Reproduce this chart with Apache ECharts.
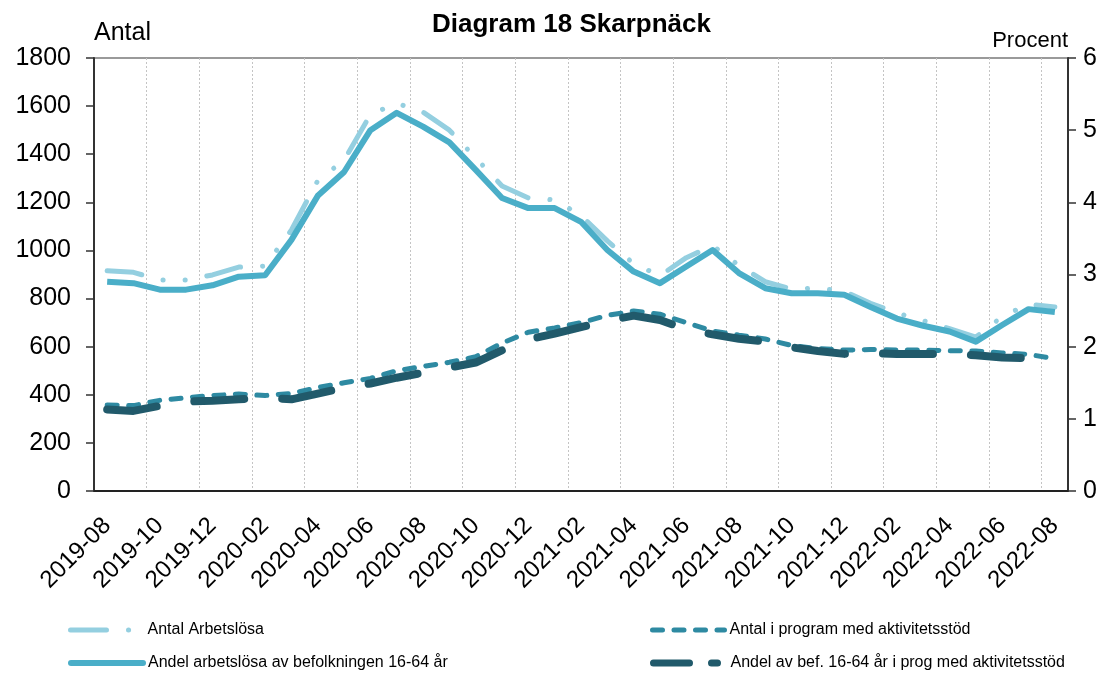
<!DOCTYPE html>
<html>
<head>
<meta charset="utf-8">
<script src="https://cdn.jsdelivr.net/npm/echarts@6/dist/echarts.min.js"></script>
<style>
  html, body { margin: 0; padding: 0; background: #fff; }
  #main { width: 1109px; height: 673px; }
</style>
</head>
<body>
<div id="main"></div>
<script>
// manader 2019-08 .. 2022-08
var manader = ['2019-08','2019-09','2019-10','2019-11','2019-12','2020-01','2020-02','2020-03',
  '2020-04','2020-05','2020-06','2020-07','2020-08','2020-09','2020-10','2020-11','2020-12',
  '2021-01','2021-02','2021-03','2021-04','2021-05','2021-06','2021-07','2021-08','2021-09',
  '2021-10','2021-11','2021-12','2022-01','2022-02','2022-03','2022-04','2022-05','2022-06',
  '2022-07','2022-08'];

// Antal Arbetslösa (vänster axel)
var antalArbetslosa = [916, 909, 877, 877, 898, 931, 935, 1085, 1290, 1375, 1565, 1612, 1575,
  1500, 1385, 1268, 1218, 1210, 1145, 1040, 945, 895, 970, 1020, 938, 870, 840, 843, 830,
  780, 740, 708, 675, 640, 725, 777, 765];

// Antal i program med aktivitetsstöd (vänster axel)
var antalProgram = [357, 355, 377, 388, 397, 403, 397, 405, 430, 450, 468, 500, 518, 535, 558,
  615, 660, 678, 700, 730, 748, 735, 700, 665, 648, 632, 605, 592, 586, 588, 586, 586, 583,
  582, 574, 568, 550];

// Andel arbetslösa av befolkningen 16-64 år, procent (höger axel)
var andelArbetslosa = [2.90, 2.88, 2.79, 2.79, 2.85, 2.97, 2.99, 3.48, 4.09, 4.42, 5.00, 5.24,
  5.05, 4.83, 4.45, 4.06, 3.92, 3.92, 3.73, 3.34, 3.04, 2.88, 3.11, 3.34, 3.02, 2.81, 2.74,
  2.74, 2.72, 2.55, 2.39, 2.29, 2.21, 2.07, 2.30, 2.52, 2.48];

// Andel av bef. 16-64 år i prog med aktivitetsstöd, procent (höger axel)
var andelProgram = [1.13, 1.11, 1.18, 1.24, 1.25, 1.27, 1.29, 1.27, 1.35, 1.43, 1.49, 1.57,
  1.64, 1.71, 1.78, 1.95, 2.10, 2.18, 2.27, 2.36, 2.43, 2.37, 2.24, 2.17, 2.11, 2.07, 1.99,
  1.94, 1.90, 1.91, 1.90, 1.90, 1.90, 1.88, 1.85, 1.84, null];

var vansterTicks = { min: 0, max: 1800, interval: 200 };
var hogerTicks = { min: 0, max: 6, interval: 1 };

var font = 'Liberation Sans, Arial, sans-serif';
var farger = ['#94cfe0', '#4aaec8', '#2e8aa2', '#215a6b'];

// en förklaring per serie, så att de kan placeras i två kolumner
function forklaring(namn, left, top, linje) {
  return {
    left: left,
    top: top,
    itemWidth: 72,
    itemHeight: 14,
    textStyle: { fontFamily: font, fontSize: 16, color: '#000' },
    itemStyle: { opacity: 0 },
    lineStyle: linje,
    data: [namn]
  };
}

var myChart = echarts.init(document.getElementById('main'));

var option = {
  backgroundColor: '#ffffff',
  animation: false,
  title: {
    text: 'Diagram 18 Skarpnäck',
    left: 427,
    top: 7,
    textStyle: { fontFamily: font, fontSize: 26, fontWeight: 'bold', color: '#000' }
  },
  legend: [
    forklaring('Antal Arbetslösa', 63, 617, { width: 5, cap: 'round', type: [36, 22, 0.1, 40] }),
    forklaring('Andel arbetslösa av befolkningen 16-64 år', 63, 650, { width: 6, cap: 'round' }),
    forklaring('Antal i program med aktivitetsstöd', 645, 617, { width: 5, cap: 'round', type: [10, 11.5] }),
    forklaring('Andel av bef. 16-64 år i prog med aktivitetsstöd', 645, 650, { width: 7, cap: 'round', type: [36, 22, 6, 20] })
  ],
  grid: {
    left: 94,
    right: 41,
    top: 58,
    bottom: 182,
    show: true,
    borderColor: '#9a9a9a',
    borderWidth: 2
  },
  xAxis: {
    type: 'category',
    data: manader,
    boundaryGap: true,
    axisLine: { lineStyle: { color: '#222', width: 2 } },
    axisTick: { interval: 1, length: 8, lineStyle: { color: '#222', width: 1.5 } },
    axisLabel: {
      interval: 1,
      rotate: 45,
      margin: 31,
      fontFamily: font,
      fontSize: 24,
      color: '#000'
    },
    splitLine: {
      show: true,
      interval: 1,
      lineStyle: { color: '#c4c4c4', width: 1, type: [2, 2] }
    }
  },
  yAxis: [{
    type: 'value',
    min: vansterTicks.min,
    max: vansterTicks.max,
    interval: vansterTicks.interval,
    name: 'Antal',
    nameLocation: 'end',
    nameGap: 12,
    nameTextStyle: { fontFamily: font, fontSize: 25, color: '#000', align: 'left', verticalAlign: 'bottom' },
    axisLine: { show: true, lineStyle: { color: '#333', width: 2 } },
    axisTick: { show: true, length: 8, lineStyle: { color: '#333', width: 1.5 } },
    axisLabel: {
      fontFamily: font, fontSize: 25, color: '#000', margin: 23,
      formatter: function (v) { return String(v); }
    },
    splitLine: { show: false }
  }, {
    type: 'value',
    position: 'right',
    min: hogerTicks.min,
    max: hogerTicks.max,
    interval: hogerTicks.interval,
    name: 'Procent',
    nameLocation: 'end',
    nameGap: 6,
    nameTextStyle: { fontFamily: font, fontSize: 22, color: '#000', align: 'right', verticalAlign: 'bottom' },
    axisLine: { show: true, lineStyle: { color: '#333', width: 2 } },
    axisTick: { show: true, length: 8, lineStyle: { color: '#333', width: 1.5 } },
    axisLabel: {
      fontFamily: font, fontSize: 25, color: '#000', margin: 15,
      formatter: function (v) { return String(v); }
    },
    splitLine: { show: false }
  }],
  series: [{
    name: 'Antal Arbetslösa',
    type: 'line',
    yAxisIndex: 0,
    symbol: 'none',
    data: antalArbetslosa,
    lineStyle: { color: farger[0], width: 5, cap: 'round', type: [35, 22, 0.1, 22, 0.1, 22] },
    itemStyle: { color: farger[0] },
    z: 2
  }, {
    name: 'Andel arbetslösa av befolkningen 16-64 år',
    type: 'line',
    yAxisIndex: 1,
    symbol: 'none',
    data: andelArbetslosa,
    lineStyle: { color: farger[1], width: 6, join: 'round' },
    itemStyle: { color: farger[1] },
    z: 3
  }, {
    name: 'Antal i program med aktivitetsstöd',
    type: 'line',
    yAxisIndex: 0,
    symbol: 'none',
    data: antalProgram,
    lineStyle: { color: farger[2], width: 5, cap: 'round', type: [10, 11.5] },
    itemStyle: { color: farger[2] },
    z: 4
  }, {
    name: 'Andel av bef. 16-64 år i prog med aktivitetsstöd',
    type: 'line',
    yAxisIndex: 1,
    symbol: 'none',
    data: andelProgram,
    lineStyle: { color: farger[3], width: 8, cap: 'round', type: [50, 38] },
    itemStyle: { color: farger[3] },
    z: 5
  }]
};

myChart.setOption(option);
</script>
</body>
</html>
